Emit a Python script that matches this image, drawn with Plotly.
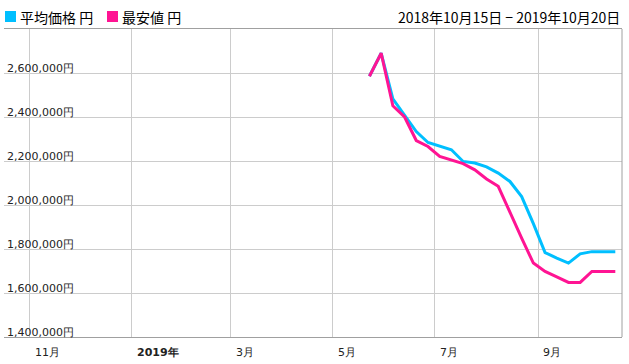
import plotly.graph_objects as go

# ---- data ----
dates = ["2019-05-23", "2019-05-30", "2019-06-06", "2019-06-13", "2019-06-20", "2019-06-27",
         "2019-07-04", "2019-07-11", "2019-07-18", "2019-07-25", "2019-08-01", "2019-08-08",
         "2019-08-15", "2019-08-22", "2019-08-29", "2019-09-05", "2019-09-12", "2019-09-19",
         "2019-09-26", "2019-10-03", "2019-10-10", "2019-10-17"]
avg_price = [2585000, 2690000, 2482000, 2406000, 2334000, 2284000, 2269000, 2251000,
             2198000, 2191000, 2173000, 2145000, 2107000, 2038000, 1915000, 1784000,
             1759000, 1736000, 1778000, 1788000, 1788000, 1788000]
min_price = [2585000, 2690000, 2451000, 2400000, 2293000, 2266000, 2221000, 2203000,
             2188000, 2160000, 2118000, 2085000, 1965000, 1849000, 1736000, 1698000,
             1673000, 1648000, 1648000, 1698000, 1698000, 1698000]
series_names = ["平均価格 円", "最安値 円"]
series_colors = ["#00bfff", "#ff1493"]

x_tick_vals = ["2018-11-01", "2019-01-01", "2019-03-01", "2019-05-01", "2019-07-01", "2019-09-01"]
x_tick_text = ["11月", "<b>2019年</b>", "3月", "5月", "7月", "9月"]
y_tick_vals = [1400000, 1600000, 1800000, 2000000, 2200000, 2400000, 2600000]
y_tick_text = [f"{v:,}円" for v in y_tick_vals]
date_range_text = "2018年10月15日 − 2019年10月20日"

W, H = 629, 364
ML, MR, MT, MB = 4, 7, 29, 27
PW, PH = W - ML - MR, H - MT - MB


def px(x):
    return (x - ML) / PW


def py(y):
    return (H - MB - y) / PH


fig = go.Figure()
fig.add_trace(go.Scatter(x=dates, y=avg_price, name=series_names[0], mode="lines",
                         line=dict(color=series_colors[0], width=3)))
fig.add_trace(go.Scatter(x=dates, y=min_price, name=series_names[1], mode="lines",
                         line=dict(color=series_colors[1], width=3)))

label_font = dict(family="DejaVu Sans", size=11, color="#222222")
cjk_font = dict(family="Noto Sans CJK JP", size=14, color="#000000")

annotations = []
for v, t in zip(x_tick_vals, x_tick_text):
    annotations.append(dict(x=v, xref="x", y=py(352), yref="paper", text=t,
                            xanchor="left", yanchor="middle", xshift=3,
                            showarrow=False, font=label_font))

# legend-like header
shapes = []
leg_x = [5, 107]
for i, name in enumerate(series_names):
    shapes.append(dict(type="rect", xref="paper", yref="paper",
                       x0=px(leg_x[i]), x1=px(leg_x[i] + 11), y0=py(22), y1=py(11),
                       fillcolor=series_colors[i], line=dict(width=0)))
    annotations.append(dict(x=px(leg_x[i] + 13), xref="paper", y=py(16.5), yref="paper",
                            text=name, xanchor="left", yanchor="middle",
                            showarrow=False, font=cjk_font))
annotations.append(dict(x=px(622), xref="paper", y=py(16.5), yref="paper",
                        text=date_range_text, xanchor="right", yanchor="middle",
                        showarrow=False, font=cjk_font))

# right border
shapes.append(dict(type="line", xref="paper", yref="paper", x0=1, x1=1, y0=0, y1=1,
                   line=dict(color="#a0a0a0", width=1)))

fig.update_layout(
    width=W, height=H,
    margin=dict(l=ML, r=MR, t=MT, b=MB),
    paper_bgcolor="white", plot_bgcolor="white",
    showlegend=False,
    annotations=annotations,
    shapes=shapes,
    xaxis=dict(type="date", range=["2018-10-16 12:00", "2019-10-21"],
               tickvals=x_tick_vals, showticklabels=False,
               showgrid=True, gridcolor="#cccccc", gridwidth=1,
               showline=True, mirror=True, linecolor="#a0a0a0", linewidth=1,
               zeroline=False, ticks=""),
    yaxis=dict(range=[1400000, 2800000], tickvals=y_tick_vals, ticktext=y_tick_text,
               ticklabelposition="inside top", ticklabelshift=3, ticklabeloverflow="allow",
               tickfont=label_font,
               showgrid=True, gridcolor="#cccccc", gridwidth=1,
               showline=False, zeroline=False, ticks=""),
)

fig.write_html("out.html", config={"displayModeBar": False},
               post_script="document.body.style.margin='0';document.body.style.overflow='hidden';")
